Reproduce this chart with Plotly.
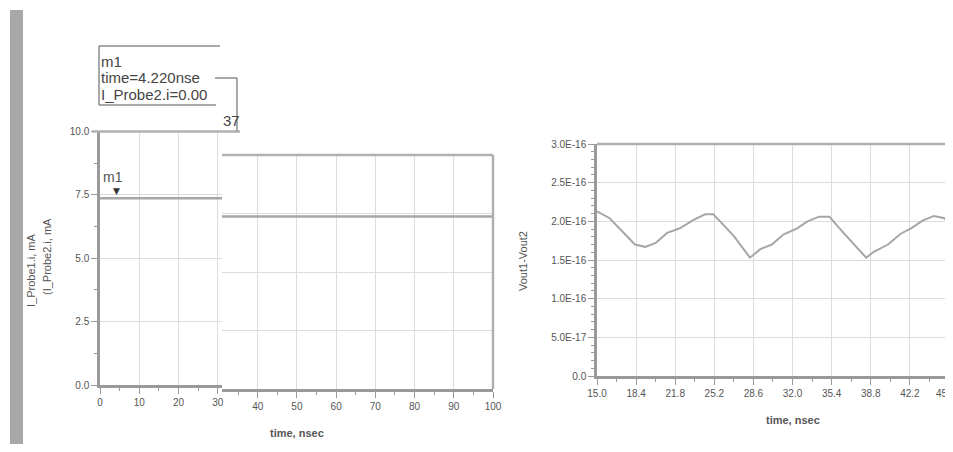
import plotly.graph_objects as go

# ---------------- data ----------------
time_probe_ns = [0, 10, 20, 30, 40, 50, 60, 70, 80, 90, 100]
i_probe_ma = [7.37, 7.37, 7.37, 7.37, 7.37, 7.37, 7.37, 7.37, 7.37, 7.37, 7.37]

marker_time_ns = 4.22
marker_value_ma = 7.37

time_vout_ns = [15.0, 16.1, 18.3, 19.2, 20.1, 21.1, 22.2, 23.4, 24.4, 25.1, 25.7, 26.9,
                28.3, 29.2, 30.2, 31.2, 32.4, 33.3, 34.3, 35.2, 36.2, 37.35, 38.4, 39.1,
                40.3, 41.4, 42.3, 43.3, 44.3, 45.2, 45.95]
vout_diff = [2.13e-16, 2.04e-16, 1.70e-16, 1.67e-16, 1.72e-16, 1.85e-16, 1.91e-16, 2.02e-16,
             2.09e-16, 2.09e-16, 2.00e-16, 1.81e-16, 1.53e-16, 1.64e-16, 1.70e-16, 1.83e-16,
             1.91e-16, 2.00e-16, 2.06e-16, 2.06e-16, 1.89e-16, 1.70e-16, 1.53e-16, 1.61e-16,
             1.70e-16, 1.84e-16, 1.91e-16, 2.01e-16, 2.07e-16, 2.04e-16, 1.91e-16]

a_xticks = [0, 10, 20, 30]
a_yticks = [0, 2.5, 5.0, 7.5, 10.0]
a_yticktext = ["0.0", "2.5", "5.0", "7.5", "10.0"]
b_xticks = [40, 50, 60, 70, 80, 90, 100]
c_xticks = [15.0, 18.4, 21.8, 25.2, 28.6, 32.0, 35.4, 38.8, 42.2, 45.6]
c_xticktext = ["15.0", "18.4", "21.8", "25.2", "28.6", "32.0", "35.4", "38.8", "42.2", "45."]
c_yticks = [0, 5e-17, 1e-16, 1.5e-16, 2e-16, 2.5e-16, 3e-16]
c_yticktext = ["0.0", "5.0E-17", "1.0E-16", "1.5E-16", "2.0E-16", "2.5E-16", "3.0E-16"]

# ---------------- layout helpers ----------------
# page body keeps its default 8px margin; the figure is placed inside it
OFF = 8
W, H = 945, 436
def px(x):
    return (x - OFF) / W
def py(y):
    return 1 - (y - OFF) / H

FONT = "Liberation Sans, Arial, sans-serif"
AXC = "#9a9a9a"
GRIDC = "#dcdcdc"
TXT = "#555555"
TRACE = "#a6a6a6"

fig = go.Figure()
fig.add_trace(go.Scatter(x=time_probe_ns, y=i_probe_ma, mode="lines",
                         line=dict(color=TRACE, width=2.5), xaxis="x", yaxis="y",
                         showlegend=False, hoverinfo="skip"))
fig.add_trace(go.Scatter(x=time_probe_ns, y=i_probe_ma, mode="lines",
                         line=dict(color=TRACE, width=2.5), xaxis="x2", yaxis="y2",
                         showlegend=False, hoverinfo="skip"))
fig.add_trace(go.Scatter(x=time_vout_ns, y=vout_diff, mode="lines",
                         line=dict(color=TRACE, width=2), xaxis="x3", yaxis="y3",
                         showlegend=False, hoverinfo="skip"))

tickfont = dict(family=FONT, size=10, color=TXT)
common_x = dict(showgrid=True, gridcolor=GRIDC, gridwidth=1, zeroline=False,
                showline=True, linecolor=AXC, linewidth=2.5, ticks="outside",
                ticklen=6, tickcolor=AXC, tickfont=tickfont, fixedrange=True,
                automargin=False)
common_y = dict(showgrid=True, gridcolor=GRIDC, gridwidth=1, zeroline=False,
                showline=True, linecolor=AXC, linewidth=2.5, ticks="outside",
                ticklen=6, tickcolor=AXC, tickfont=tickfont, fixedrange=True,
                automargin=False)

# last label of the right plot sits at the page edge: drawn separately, right-aligned
c_axis_text = c_xticktext[:-1] + [""]

fig.update_layout(
    template="none",
    width=W, height=H, autosize=False,
    margin=dict(l=0, r=0, t=0, b=0, pad=0, autoexpand=False),
    paper_bgcolor="white", plot_bgcolor="white",
    font=dict(family=FONT, color=TXT),
    xaxis=dict(common_x, domain=[px(100), px(222)], range=[0, 31.05], anchor="y",
               tickmode="array", tickvals=a_xticks,
               minor=dict(ticks="outside", ticklen=3, dtick=5, tickcolor=AXC, showgrid=False)),
    yaxis=dict(common_y, domain=[py(385), py(131.5)], range=[0, 10], anchor="x",
               tickmode="array", tickvals=a_yticks, ticktext=a_yticktext,
               minor=dict(ticks="outside", ticklen=3, dtick=1.25, tickcolor=AXC, showgrid=False)),
    xaxis2=dict(common_x, domain=[px(222), px(493)], range=[30.9, 100], anchor="y2",
                tickmode="array", tickvals=b_xticks,
                minor=dict(ticks="outside", ticklen=3, dtick=5, tickcolor=AXC, showgrid=False)),
    yaxis2=dict(common_y, domain=[py(389), py(155)], range=[0, 10], anchor="x2",
                showline=False, ticks="", showticklabels=False, dtick=2.5),
    xaxis3=dict(common_x, domain=[px(597), 1], range=[15, 45.95], anchor="y3",
                tickmode="array", tickvals=c_xticks, ticktext=c_axis_text,
                minor=dict(ticks="outside", ticklen=3, dtick=1.7, tick0=15, tickcolor=AXC, showgrid=False)),
    yaxis3=dict(common_y, domain=[py(376), py(144)], range=[0, 3e-16], anchor="x3",
                tickmode="array", tickvals=c_yticks, ticktext=c_yticktext,
                minor=dict(ticks="outside", ticklen=3, dtick=1e-17, tickcolor=AXC, showgrid=False)),
)

shapes = []
# left grey bar
shapes.append(dict(type="rect", xref="paper", yref="paper", x0=px(10), x1=px(23),
                   y0=0, y1=py(10), fillcolor="#a8a8a8", line=dict(width=0), layer="below"))
# frame lines
frame = dict(color="#b0b0b0", width=2.5)
shapes.append(dict(type="line", xref="paper", yref="y domain", x0=px(92), x1=px(240), y0=1, y1=1, line=frame))
shapes.append(dict(type="line", xref="x2 domain", yref="y2 domain", x0=0, x1=1, y0=1, y1=1, line=frame))
shapes.append(dict(type="line", xref="x2 domain", yref="y2 domain", x0=1, x1=1, y0=0, y1=1, line=frame))
shapes.append(dict(type="line", xref="x3 domain", yref="y3 domain", x0=0, x1=1, y0=1, y1=1, line=frame))
# marker readout box
box = dict(color="#8c8c8c", width=1.5)
for (x0, y0, x1, y1) in [(99, 46, 220, 46), (99, 46, 99, 105), (99, 105, 216, 105),
                         (215, 78, 237, 78), (237, 78, 237, 131)]:
    shapes.append(dict(type="line", xref="paper", yref="paper", x0=px(x0), x1=px(x1),
                       y0=py(y0), y1=py(y1), line=box))
fig.update_layout(shapes=shapes)

ann = []
def txt(x, y, s, size=10, angle=0, xanchor="left", color=TXT):
    ann.append(dict(xref="paper", yref="paper", x=px(x), y=py(y), text=s, showarrow=False,
                    xanchor=xanchor, yanchor="middle", textangle=angle,
                    font=dict(family=FONT, size=size, color=color)))

txt(99, 61, "m1", 15, color="#444")
txt(99, 77, "time=4.220nse", 15, color="#444")
txt(99, 95, "I_Probe2.i=0.00", 15, color="#444")
txt(221, 120, "37", 15, color="#444")
txt(31, 271, "I_Probe1.i, mA", 11, angle=-90, xanchor="center")
txt(47, 257, "(I_Probe2.i, mA", 11, angle=-90, xanchor="center")
txt(523, 261, "Vout1-Vout2", 11, angle=-90, xanchor="center")
txt(297, 433, "<b>time, nsec</b>", 11, xanchor="center")
txt(793, 420, "<b>time, nsec</b>", 11, xanchor="center")
# last x tick label of right plot, kept inside the page
ann.append(dict(xref="paper", yref="paper", x=1, y=py(393), text=c_xticktext[-1],
                showarrow=False, xanchor="right", yanchor="middle", xshift=-1,
                font=dict(family=FONT, size=10, color=TXT)))

# marker m1 on trace
ann.append(dict(xref="x", yref="y", x=marker_time_ns, y=marker_value_ma, text="▼",
                showarrow=False, yshift=7, font=dict(family="DejaVu Sans", size=9, color="#333")))
ann.append(dict(xref="x", yref="y", x=marker_time_ns, y=marker_value_ma, text="m1",
                showarrow=False, yshift=21, xshift=-4, font=dict(family=FONT, size=14, color="#555")))
fig.update_layout(annotations=ann)

fig.write_html("out.html", config={"displayModeBar": False})
